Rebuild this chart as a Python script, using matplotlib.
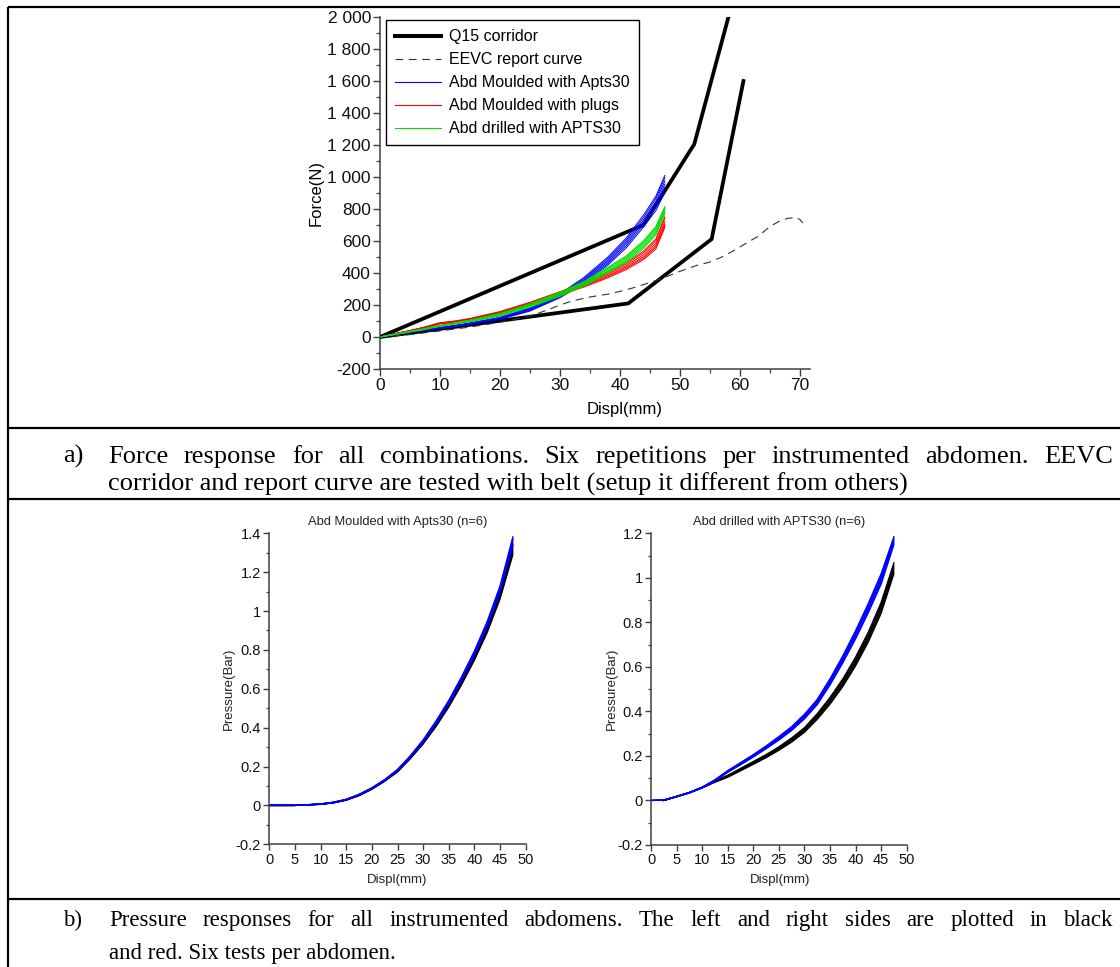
import matplotlib
matplotlib.use('Agg')
import matplotlib.pyplot as plt
from matplotlib.ticker import FixedLocator, MultipleLocator, FixedFormatter
from matplotlib.lines import Line2D

# ---------------- data ----------------
# Top chart: force vs displacement
corr_upper_x = [0, 43.9, 52.4, 58.1]
corr_upper_y = [0, 700, 1205, 2000]
corr_lower_x = [0, 41.4, 55.3, 60.6]
corr_lower_y = [0, 210, 612, 1600]

eevc_x = [0, 5, 10, 15, 20, 25, 28, 30, 32, 35, 38, 40, 42, 45, 48, 50, 53, 55, 57, 59, 61, 63, 65, 66.5, 68, 69.3, 70, 70.5]
eevc_y = [0, 15, 38, 62, 92, 130, 170, 200, 225, 250, 268, 285, 305, 340, 380, 410, 450, 468, 500, 540, 585, 628, 690, 722, 742, 746, 735, 712]

force_x = [0, 2.5, 5, 7.5, 10, 12.5, 15, 20, 25, 30, 34, 38, 41, 44, 46, 47.5]
moulded_apts30 = [
    [0, 14, 27, 40, 52, 64, 78, 110, 162, 245, 335, 450, 555, 690, 790, 905],
    [0, 15, 28, 41, 54, 66, 80, 113, 166, 250, 343, 460, 568, 705, 812, 935],
    [0, 15, 28, 42, 55, 68, 82, 115, 170, 255, 350, 470, 580, 720, 830, 955],
    [0, 16, 29, 43, 56, 70, 84, 118, 174, 260, 357, 480, 592, 735, 848, 975],
    [0, 16, 29, 44, 57, 71, 86, 120, 178, 265, 364, 490, 604, 750, 866, 995],
    [0, 17, 30, 45, 58, 72, 88, 123, 182, 270, 372, 500, 616, 765, 880, 1010],
]
moulded_plugs = [
    [0, 19, 36, 57, 82, 92, 106, 144, 198, 262, 312, 370, 420, 485, 550, 685],
    [0, 20, 37, 59, 84, 94, 108, 147, 202, 266, 317, 377, 428, 494, 561, 695],
    [0, 20, 38, 60, 85, 95, 110, 150, 205, 270, 322, 384, 436, 503, 572, 705],
    [0, 21, 39, 61, 86, 97, 112, 153, 209, 274, 328, 392, 445, 515, 586, 720],
    [0, 21, 40, 62, 88, 99, 114, 156, 213, 279, 334, 400, 455, 528, 602, 740],
    [0, 22, 41, 63, 89, 100, 116, 159, 217, 283, 340, 408, 464, 538, 614, 752],
]
drilled_apts30 = [
    [0, 16, 31, 47, 66, 80, 95, 131, 186, 254, 318, 400, 463, 555, 638, 770],
    [0, 16, 32, 48, 68, 82, 97, 134, 190, 259, 324, 408, 472, 565, 649, 780],
    [0, 17, 33, 50, 70, 85, 100, 138, 195, 265, 330, 415, 480, 575, 660, 790],
    [0, 17, 34, 51, 71, 86, 102, 141, 199, 270, 336, 423, 489, 586, 672, 800],
    [0, 18, 34, 52, 72, 88, 104, 144, 203, 274, 341, 430, 497, 595, 682, 808],
    [0, 18, 35, 53, 73, 89, 106, 147, 207, 279, 347, 437, 505, 604, 691, 815],
]
force_yticks = [-200, 0, 200, 400, 600, 800, 1000, 1200, 1400, 1600, 1800, 2000]
force_ylabels = ['-200', '0', '200', '400', '600', '800', '1 000', '1 200', '1 400', '1 600', '1 800', '2 000']
force_xticks = [0, 10, 20, 30, 40, 50, 60, 70]

legend_labels = ['Q15 corridor', 'EEVC report curve', 'Abd Moulded with Apts30',
                 'Abd Moulded with plugs', 'Abd drilled with APTS30']

# Bottom-left chart: pressure, moulded abdomen
pl_x = [0, 5, 10, 12.5, 15, 17.5, 20, 22.5, 25, 27.5, 30, 32.5, 35, 37.5, 40, 42.5, 45, 47.5]
pl_black = [
    [0, 0, 0.005, 0.013, 0.027, 0.050, 0.083, 0.124, 0.172, 0.240, 0.316, 0.405, 0.506, 0.621, 0.747, 0.890, 1.062, 1.290],
    [0, 0, 0.006, 0.013, 0.027, 0.051, 0.084, 0.125, 0.174, 0.242, 0.319, 0.409, 0.510, 0.626, 0.753, 0.897, 1.070, 1.300],
    [0, 0, 0.006, 0.014, 0.028, 0.052, 0.085, 0.127, 0.176, 0.245, 0.322, 0.413, 0.515, 0.632, 0.760, 0.905, 1.080, 1.310],
    [0, 0, 0.006, 0.014, 0.028, 0.053, 0.086, 0.128, 0.178, 0.247, 0.325, 0.417, 0.520, 0.638, 0.767, 0.913, 1.089, 1.320],
    [0, 0, 0.007, 0.015, 0.029, 0.054, 0.087, 0.129, 0.180, 0.249, 0.328, 0.421, 0.525, 0.644, 0.774, 0.921, 1.098, 1.330],
    [0, 0, 0.007, 0.015, 0.029, 0.054, 0.088, 0.130, 0.181, 0.251, 0.331, 0.425, 0.530, 0.650, 0.781, 0.929, 1.107, 1.340],
]
pl_blue = [
    [0, 0, 0.006, 0.014, 0.029, 0.054, 0.086, 0.128, 0.178, 0.247, 0.326, 0.420, 0.524, 0.643, 0.771, 0.919, 1.097, 1.340],
    [0, 0, 0.007, 0.015, 0.030, 0.055, 0.087, 0.129, 0.179, 0.249, 0.328, 0.423, 0.527, 0.647, 0.776, 0.925, 1.104, 1.350],
    [0, 0, 0.007, 0.015, 0.030, 0.055, 0.088, 0.130, 0.180, 0.250, 0.330, 0.425, 0.530, 0.650, 0.780, 0.930, 1.110, 1.360],
    [0, 0, 0.007, 0.016, 0.031, 0.056, 0.089, 0.131, 0.182, 0.252, 0.333, 0.428, 0.534, 0.654, 0.785, 0.936, 1.117, 1.368],
    [0, 0, 0.008, 0.016, 0.031, 0.056, 0.090, 0.132, 0.183, 0.254, 0.335, 0.431, 0.537, 0.658, 0.790, 0.941, 1.123, 1.375],
    [0, 0, 0.008, 0.017, 0.032, 0.057, 0.091, 0.133, 0.185, 0.256, 0.337, 0.434, 0.541, 0.662, 0.795, 0.947, 1.130, 1.382],
]

# Bottom-right chart: pressure, drilled abdomen
pr_x = [0, 2.5, 5, 7.5, 10, 12.5, 15, 17.5, 20, 22.5, 25, 27.5, 30, 32.5, 35, 37.5, 40, 42.5, 45, 47.5]
pr_black_x = [2.5, 5, 7.5, 10, 12.5, 15, 17.5, 20, 22.5, 25, 27.5, 30, 32.5, 35, 37.5, 40, 42.5, 45, 47.5]
pr_blue = [
    [0, 0.002, 0.017, 0.034, 0.056, 0.087, 0.126, 0.160, 0.195, 0.232, 0.271, 0.314, 0.366, 0.430, 0.518, 0.617, 0.725, 0.843, 0.971, 1.148],
    [0, 0.002, 0.017, 0.034, 0.057, 0.088, 0.128, 0.162, 0.197, 0.235, 0.274, 0.318, 0.370, 0.435, 0.524, 0.623, 0.732, 0.851, 0.980, 1.156],
    [0, 0.002, 0.018, 0.035, 0.058, 0.090, 0.130, 0.165, 0.200, 0.238, 0.278, 0.322, 0.375, 0.440, 0.530, 0.630, 0.740, 0.860, 0.990, 1.165],
    [0, 0.002, 0.018, 0.035, 0.058, 0.091, 0.131, 0.166, 0.202, 0.240, 0.281, 0.325, 0.379, 0.445, 0.536, 0.637, 0.748, 0.869, 1.000, 1.172],
    [0, 0.002, 0.019, 0.036, 0.059, 0.092, 0.133, 0.168, 0.204, 0.243, 0.284, 0.329, 0.383, 0.450, 0.541, 0.643, 0.755, 0.877, 1.009, 1.178],
    [0, 0.002, 0.019, 0.036, 0.060, 0.093, 0.134, 0.170, 0.206, 0.245, 0.287, 0.332, 0.387, 0.454, 0.547, 0.650, 0.763, 0.886, 1.019, 1.185],
]
pr_black = [
    [0, 0.016, 0.034, 0.056, 0.082, 0.104, 0.133, 0.162, 0.192, 0.225, 0.262, 0.306, 0.364, 0.432, 0.511, 0.604, 0.712, 0.840, 1.018],
    [0, 0.017, 0.034, 0.057, 0.083, 0.106, 0.135, 0.165, 0.195, 0.228, 0.266, 0.310, 0.369, 0.438, 0.518, 0.612, 0.721, 0.850, 1.029],
    [0, 0.017, 0.035, 0.058, 0.085, 0.108, 0.138, 0.168, 0.198, 0.232, 0.270, 0.315, 0.375, 0.445, 0.525, 0.620, 0.730, 0.860, 1.040],
    [0, 0.017, 0.035, 0.058, 0.086, 0.110, 0.140, 0.170, 0.201, 0.235, 0.274, 0.319, 0.380, 0.451, 0.532, 0.628, 0.739, 0.870, 1.050],
    [0, 0.018, 0.036, 0.059, 0.087, 0.111, 0.142, 0.173, 0.203, 0.238, 0.277, 0.323, 0.385, 0.457, 0.539, 0.636, 0.748, 0.880, 1.060],
    [0, 0.018, 0.036, 0.060, 0.088, 0.113, 0.144, 0.175, 0.206, 0.241, 0.281, 0.327, 0.390, 0.463, 0.546, 0.644, 0.757, 0.890, 1.068],
]
p_xticks = [0, 5, 10, 15, 20, 25, 30, 35, 40, 45, 50]
pl_yticks = [-0.2, 0, 0.2, 0.4, 0.6, 0.8, 1.0, 1.2, 1.4]
pl_ylabels = ['-0.2', '0', '0.2', '0.4', '0.6', '0.8', '1', '1.2', '1.4']
pr_yticks = [-0.2, 0, 0.2, 0.4, 0.6, 0.8, 1.0, 1.2]
pr_ylabels = ['-0.2', '0', '0.2', '0.4', '0.6', '0.8', '1', '1.2']

title_left = 'Abd Moulded with Apts30 (n=6)'
title_right = 'Abd drilled with APTS30 (n=6)'
caption_a = ['Force response for all combinations. Six repetitions per instrumented abdomen. EEVC',
             'corridor and report curve are tested with belt (setup it different from others)']
caption_b = ['Pressure responses for all instrumented abdomens. The left and right sides are plotted in black',
             'and red. Six tests per abdomen.']

# ---------------- figure ----------------
W, H = 1120, 967
plt.rcParams['font.family'] = ['Liberation Sans', 'DejaVu Sans']
fig = plt.figure(figsize=(W / 100, H / 100), dpi=100)
fig.patch.set_facecolor('white')


def px_axes(l, t, r, b):
    return fig.add_axes([l / W, 1 - b / H, (r - l) / W, (b - t) / H])


def hline(y, x0=8, x1=W):
    fig.add_artist(Line2D([x0 / W, x1 / W], [1 - y / H, 1 - y / H], transform=fig.transFigure,
                          color='black', lw=1.6, solid_capstyle='butt'))


def vline(x, y0, y1):
    fig.add_artist(Line2D([x / W, x / W], [1 - y0 / H, 1 - y1 / H], transform=fig.transFigure,
                          color='black', lw=1.6, solid_capstyle='butt'))


for yy in [7, 428, 499, 899]:
    hline(yy)
vline(8, 7, H)

AX_COLOR = '#404040'


def style_axes(ax, fs, major_len=5, minor_len=3, pad=2):
    for s in ['top', 'right']:
        ax.spines[s].set_visible(False)
    for s in ['left', 'bottom']:
        ax.spines[s].set_color(AX_COLOR)
        ax.spines[s].set_linewidth(1.1)
    ax.tick_params(which='major', direction='out', length=major_len, width=1.0, color=AX_COLOR,
                   labelsize=fs, labelcolor='#111111', pad=pad)
    ax.tick_params(which='minor', direction='out', length=minor_len, width=0.9, color=AX_COLOR)
    ax.set_facecolor('none')


# ---- top chart ----
ax = px_axes(380, 17, 810, 369)
ax.set_xlim(0, 71.7)
ax.set_ylim(-200, 2000)
ax.plot(corr_upper_x, corr_upper_y, color='black', lw=2.7, solid_joinstyle='miter')
ax.plot(corr_lower_x, corr_lower_y, color='black', lw=2.7, solid_joinstyle='miter')
ax.plot(eevc_x, eevc_y, color='#333333', lw=0.8, dashes=(7, 5))
for rep in moulded_apts30:
    ax.plot(force_x, rep, color='#0000ff', lw=0.7)
for rep in moulded_plugs:
    ax.plot(force_x, rep, color='#ff0000', lw=0.7)
for rep in drilled_apts30:
    ax.plot(force_x, rep, color='#00e000', lw=0.7)
ax.xaxis.set_major_locator(FixedLocator(force_xticks))
ax.xaxis.set_minor_locator(MultipleLocator(5))
ax.yaxis.set_major_locator(FixedLocator(force_yticks))
ax.yaxis.set_major_formatter(FixedFormatter(force_ylabels))
ax.yaxis.set_minor_locator(MultipleLocator(100))
style_axes(ax, 12.5, 5, 3, 1.5)
ax.set_ylabel('Force(N)', fontsize=12)
ax.yaxis.set_label_coords(-0.13, 0.5)
ax.set_xlabel('Displ(mm)', fontsize=12)
ax.xaxis.set_label_coords(0.57, -0.094)

handles = [Line2D([], [], color='black', lw=2.9),
           Line2D([], [], color='#333333', lw=0.8, dashes=(7, 5)),
           Line2D([], [], color='#0000ff', lw=0.8),
           Line2D([], [], color='#ff0000', lw=0.8),
           Line2D([], [], color='#00e000', lw=0.8)]
leg = ax.legend(handles, legend_labels, loc='upper left', bbox_to_anchor=(386 / W, 1 - 20 / H),
                bbox_transform=fig.transFigure, borderaxespad=0, fontsize=11.5, fancybox=False,
                framealpha=1, edgecolor='black', handlelength=2.85, handletextpad=0.5,
                labelspacing=0.5, borderpad=0.58)
leg.get_frame().set_linewidth(1.0)

# ---- bottom left ----
axl = px_axes(269.3, 533.3, 525.7, 844.3)
axl.set_xlim(0, 50)
axl.set_ylim(-0.2, 1.4)
for rep in pl_black:
    axl.plot(pl_x, rep, color='black', lw=0.9)
for rep in pl_blue:
    axl.plot(pl_x, rep, color='#0000ff', lw=0.9)
axl.xaxis.set_major_locator(FixedLocator(p_xticks))
axl.yaxis.set_major_locator(FixedLocator(pl_yticks))
axl.yaxis.set_major_formatter(FixedFormatter(pl_ylabels))
axl.yaxis.set_minor_locator(MultipleLocator(0.1))
style_axes(axl, 10.5, 4, 2.5, 2)
axl.set_title(title_left, fontsize=9.3, color='#222222', pad=6)
axl.set_ylabel('Pressure(Bar)', fontsize=9.5, color='#222222')
axl.yaxis.set_label_coords(-0.134, 0.5)
axl.set_xlabel('Displ(mm)', fontsize=9.5, color='#222222')
axl.xaxis.set_label_coords(0.5, -0.095)

# ---- bottom right ----
axr = px_axes(651, 533.3, 906.7, 845)
axr.set_xlim(0, 50)
axr.set_ylim(-0.2, 1.2)
for rep in pr_black:
    axr.plot(pr_black_x, rep, color='black', lw=0.9)
for rep in pr_blue:
    axr.plot(pr_x, rep, color='#0000ff', lw=0.9)
axr.xaxis.set_major_locator(FixedLocator(p_xticks))
axr.yaxis.set_major_locator(FixedLocator(pr_yticks))
axr.yaxis.set_major_formatter(FixedFormatter(pr_ylabels))
axr.yaxis.set_minor_locator(MultipleLocator(0.1))
style_axes(axr, 10.5, 4, 2.5, 2)
axr.set_title(title_right, fontsize=9.3, color='#222222', pad=6)
axr.set_ylabel('Pressure(Bar)', fontsize=9.5, color='#222222')
axr.yaxis.set_label_coords(-0.129, 0.5)
axr.set_xlabel('Displ(mm)', fontsize=9.5, color='#222222')
axr.xaxis.set_label_coords(0.504, -0.093)

# ---- captions ----
SERIF = ['Liberation Serif', 'DejaVu Serif']
renderer = fig.canvas.get_renderer()


def justified(line, x0, x1, y, fs):
    words = line.split()
    texts = [fig.text(0, 1 - y / H, w, fontsize=fs, family=SERIF, va='baseline', ha='left')
             for w in words]
    widths = [t.get_window_extent(renderer).width for t in texts]
    gap = (x1 - x0 - sum(widths)) / (len(words) - 1)
    x = x0
    for t, w in zip(texts, widths):
        t.set_x(x / W)
        x += w + gap


def plain(line, x0, y, fs):
    fig.text(x0 / W, 1 - y / H, line, fontsize=fs, family=SERIF, va='baseline', ha='left')


FS_A = 19
FS_B = 16.5
plain('a)', 63, 463, FS_A)
justified(caption_a[0], 108, 1113, 463, FS_A)
plain(caption_a[1], 108, 490.5, FS_A)
plain('b)', 63, 926, FS_B)
justified(caption_b[0], 109, 1113, 926, FS_B)
plain(caption_b[1], 109, 959, FS_B)

fig.savefig('out.png', dpi=100, facecolor='white')
